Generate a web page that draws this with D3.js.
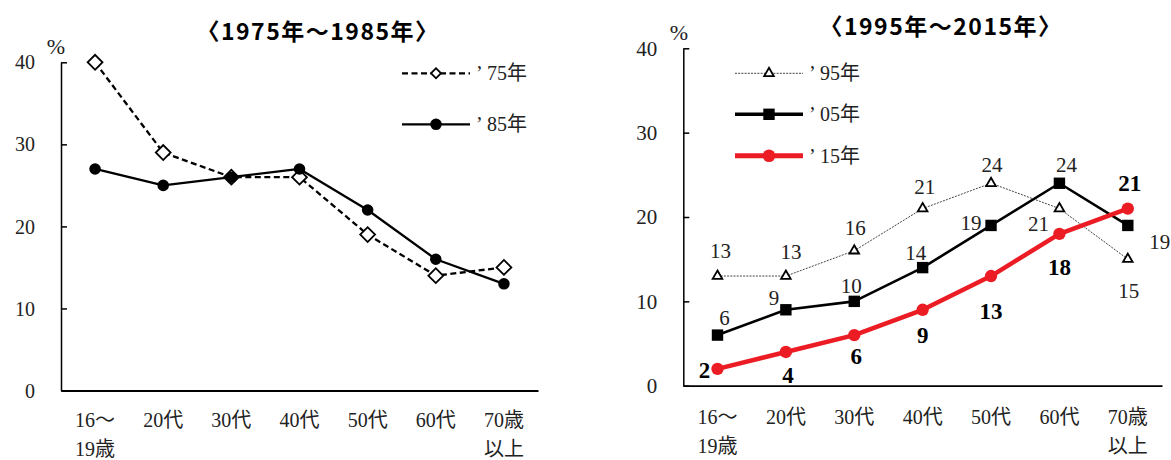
<!DOCTYPE html>
<html><head><meta charset="utf-8">
<script src="https://cdn.jsdelivr.net/npm/d3@7"></script>
<style>
html,body{margin:0;padding:0;background:#fff;}
svg{display:block;}
</style></head>
<body>
<svg id="c" width="1171" height="460"></svg>
<script>
// ---------- data ----------
const categories = [["16～","19歳"],["20代"],["30代"],["40代"],["50代"],["60代"],["70歳","以上"]];
const yTicks = [0,10,20,30,40];
const titleLeft = "〈1975年～1985年〉";
const titleRight = "〈1995年～2015年〉";
const s75 = [40,29,26,26,19,14,15];
const s85 = [27,25,26,27,22,16,13];
const s95 = [13,13,16,21,24,21,15];
const s05 = [6,9,10,14,19,24,19];
const s15 = [2,4,6,9,13,18,21];
const legendLeft = ["75年","85年"];
const legendRight = ["95年","05年","15年"];
// label nudges (dx,dy of label centre from its point), pixels
const nudge95 = [[3,-25],[5,-24],[1,-23],[2,-22],[1,-19],[-21,15],[1,31]];
const nudge05 = [[7,-17],[-12,-12],[-3,-16],[-7,-15],[-20,-3],[7,-19],[32,16]];
const nudge15 = [[-13,1],[2,23],[2,21],[0,25],[0,35],[0,33],[2,-26]];

const svg = d3.select("#c");
const SERIF = "'Liberation Serif','Noto Sans CJK JP',serif";
const SANS = "'Noto Sans CJK JP','Noto Sans',sans-serif";

function frame(x0,x1,yBot,yTop,tickFont,xLblBase,xLblGap){
  const x = d3.scaleBand().domain(d3.range(categories.length)).range([x0,x1]).padding(0);
  const y = d3.scaleLinear().domain([0,40]).range([yBot,yTop]);
  const g = svg.append("g");
  const ya = g.append("g").attr("transform",`translate(${x0},0)`)
    .call(d3.axisLeft(y).tickValues(yTicks).tickSizeInner(-6).tickSizeOuter(0).tickPadding(26));
  ya.attr("font-family",SERIF);
  ya.selectAll("path,line").attr("stroke","#000").attr("stroke-width",1.5);
  ya.selectAll("text").attr("font-family",SERIF).attr("font-size",tickFont).attr("fill","#222").attr("dy","0.33em");
  const xa = g.append("g").attr("transform",`translate(0,${yBot})`)
    .call(d3.axisBottom(x).tickSize(0).tickFormat(""));
  xa.attr("font-family",SERIF);
  xa.select("path").attr("stroke","#000").attr("stroke-width",1.8);
  xa.selectAll(".tick").each(function(d){
    const t = d3.select(this).append("text").attr("fill","#222")
      .attr("font-family",SERIF).attr("font-size",20).attr("text-anchor","middle");
    categories[d].forEach((ln,i)=>{
      t.append("tspan").attr("x",0).attr("y",xLblBase - yBot + i*xLblGap).text(ln);
    });
  });
  return {x,y,g,cx:i=>x(i)+x.bandwidth()/2};
}

function drawLine(f,data,opts){
  const line = d3.line().x((d,i)=>f.cx(i)).y(d=>f.y(d));
  f.g.append("path").datum(data).attr("d",line).attr("fill","none")
    .attr("stroke",opts.color).attr("stroke-width",opts.width)
    .attr("stroke-dasharray",opts.dash||null).attr("stroke-linejoin","round");
  f.g.append("g").selectAll("path").data(data).join("path")
    .attr("transform",(d,i)=>`translate(${f.cx(i)},${f.y(d)})${opts.rot?" rotate(45)":""}`)
    .attr("d",d3.symbol().type(opts.sym).size(opts.size))
    .attr("fill",opts.fill).attr("stroke",opts.mstroke).attr("stroke-width",opts.msw);
}
function legendItem(x0,x1,yy,lbl,opts){
  svg.append("line").attr("x1",x0).attr("x2",x1).attr("y1",yy).attr("y2",yy)
    .attr("stroke",opts.color).attr("stroke-width",opts.lw||opts.width).attr("stroke-dasharray",opts.dash||null);
  svg.append("path").attr("transform",`translate(${(x0+x1)/2},${yy})${opts.rot?" rotate(45)":""}`)
    .attr("d",d3.symbol().type(opts.sym).size(opts.lsize||opts.size))
    .attr("fill",opts.fill).attr("stroke",opts.mstroke).attr("stroke-width",opts.msw);
  const t = svg.append("text").attr("font-family",SERIF).attr("font-size",20).attr("fill","#222")
    .attr("y",yy+7);
  t.append("tspan").attr("x",x1+6).text("’");
  t.append("tspan").attr("x",x1+17).text(lbl);
}
function labels(f,data,nudge,bold){
  f.g.append("g").selectAll("text").data(data).join("text")
    .attr("x",(d,i)=>f.cx(i)+nudge[i][0]).attr("y",(d,i)=>f.y(d)+nudge[i][1])
    .attr("dy","0.35em").attr("text-anchor","middle")
    .attr("font-family",SERIF).attr("font-size",bold?23:21).attr("font-weight",bold?"bold":"normal")
    .attr("fill",bold?"#000":"#222").text(d=>d);
}
function title(x,y,txt){
  svg.append("text").attr("x",x).attr("y",y).attr("text-anchor","middle")
    .attr("font-family",SANS).attr("font-weight","bold").attr("font-size",23)
    .attr("letter-spacing",1.5).text(txt);
}

// ---------- left chart ----------
const L = frame(61,538,390.5,62.3,20,427,28.5);
svg.append("text").attr("x",56).attr("y",54).attr("text-anchor","middle")
  .attr("font-family",SERIF).attr("font-size",22).attr("fill","#222").text("%");
title(318,40,titleLeft);
const o75 = {color:"#000",width:2.3,dash:"6,3.5",sym:d3.symbolSquare,rot:true,size:110,lsize:50,fill:"#fff",mstroke:"#000",msw:1.8};
const o85 = {color:"#000",width:2.3,sym:d3.symbolCircle,size:105,fill:"#000",mstroke:"#000",msw:0};
drawLine(L,s75,o75);
drawLine(L,s85,o85);
legendItem(402,470,73.3,legendLeft[0],o75);
legendItem(402,470,124.3,legendLeft[1],o85);

// ---------- right chart ----------
const R = frame(683.3,1162,385.7,48.3,21,424,29);
svg.append("text").attr("x",679).attr("y",40).attr("text-anchor","middle")
  .attr("font-family",SERIF).attr("font-size",22).attr("fill","#222").text("%");
title(941,35,titleRight);
const o95 = {color:"#444",width:1,dash:"2,1.2",sym:d3.symbolTriangle,size:40,fill:"#fff",mstroke:"#000",msw:1.8};
const o05 = {color:"#000",width:2.6,lw:3.5,sym:d3.symbolSquare,size:130,fill:"#000",mstroke:"#000",msw:0};
const o15 = {color:"#ec1c24",width:4.5,lw:5,sym:d3.symbolCircle,size:120,lsize:125,fill:"#ec1c24",mstroke:"#ec1c24",msw:0};
drawLine(R,s95,o95);
drawLine(R,s05,o05);
drawLine(R,s15,o15);
labels(R,s95,nudge95,false);
labels(R,s05,nudge05,false);
labels(R,s15,nudge15,true);
legendItem(735,803,73.3,legendRight[0],o95);
legendItem(735,803,114.3,legendRight[1],o05);
legendItem(735,803,155.7,legendRight[2],o15);
</script>
</body></html>
